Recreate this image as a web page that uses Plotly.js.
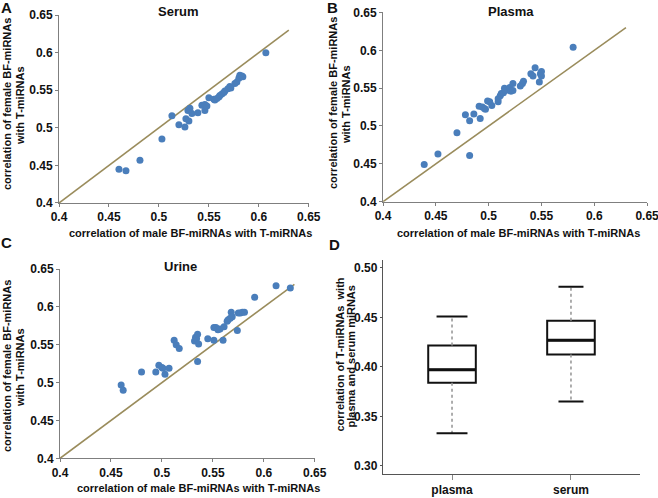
<!DOCTYPE html>
<html>
<head>
<meta charset="utf-8">
<script src="https://cdn.plot.ly/plotly-3.0.1.min.js"></script>
<style>html,body{margin:0;padding:0;background:#fff;}#chart{width:658px;height:498px;}</style>
</head>
<body>
<div id="chart"></div>
<script>
// Panel A: Serum
const serumMale   = [0.460,0.467,0.481,0.503,0.513,0.520,0.526,0.527,0.530,0.529,0.531,0.533,0.539,0.543,0.546,0.546,0.548,0.550,0.555,0.556,0.558,0.560,0.561,0.563,0.565,0.566,0.569,0.571,0.572,0.576,0.578,0.580,0.581,0.581,0.583,0.584,0.607];
const serumFemale = [0.445,0.443,0.457,0.485,0.516,0.504,0.501,0.512,0.509,0.523,0.526,0.519,0.520,0.530,0.531,0.523,0.529,0.540,0.538,0.537,0.539,0.541,0.543,0.545,0.547,0.549,0.552,0.555,0.553,0.559,0.561,0.566,0.570,0.568,0.569,0.568,0.600];
// Panel B: Plasma
const plasmaMale   = [0.439,0.452,0.470,0.478,0.482,0.482,0.486,0.492,0.491,0.494,0.496,0.497,0.499,0.501,0.503,0.509,0.509,0.511,0.512,0.514,0.515,0.516,0.520,0.521,0.523,0.523,0.530,0.532,0.533,0.540,0.542,0.544,0.548,0.549,0.550,0.550,0.580];
const plasmaFemale = [0.449,0.463,0.491,0.515,0.507,0.461,0.516,0.510,0.526,0.525,0.523,0.522,0.533,0.532,0.527,0.532,0.536,0.540,0.543,0.544,0.550,0.547,0.551,0.546,0.556,0.547,0.553,0.556,0.559,0.569,0.566,0.577,0.558,0.569,0.572,0.566,0.604];
// Panel C: Urine
const urineMale   = [0.460,0.462,0.480,0.494,0.497,0.500,0.501,0.503,0.507,0.512,0.514,0.517,0.532,0.533,0.534,0.535,0.536,0.535,0.545,0.551,0.551,0.553,0.555,0.557,0.560,0.561,0.564,0.565,0.567,0.568,0.569,0.574,0.575,0.577,0.579,0.581,0.591,0.612,0.626];
const urineFemale = [0.497,0.490,0.514,0.514,0.523,0.520,0.519,0.511,0.519,0.556,0.550,0.545,0.555,0.560,0.558,0.564,0.551,0.528,0.558,0.556,0.573,0.573,0.570,0.571,0.556,0.574,0.581,0.583,0.585,0.593,0.587,0.569,0.592,0.592,0.593,0.593,0.613,0.628,0.625];
// Identity line
const diagX = [0.4, 0.63];
const diagY = [0.4, 0.63];
// Panel D: boxplot stats
const boxCats   = ['plasma', 'serum'];
const boxLower  = [0.333, 0.365];
const boxQ1     = [0.384, 0.4125];
const boxMedian = [0.397, 0.427];
const boxQ3     = [0.4215, 0.4465];
const boxUpper  = [0.451, 0.481];
const scatterTicks = [0.4, 0.45, 0.5, 0.55, 0.6, 0.65];
const boxTicks = [0.30, 0.35, 0.40, 0.45, 0.50];

const FONT = 'Liberation Sans, Arial, sans-serif';
const dotColor = '#4a7ebb';
const lineColor = '#9a8c5c';
const axisGray = '#7f7f7f';

const boxPos = boxCats.map((c, i) => i + 1);
const boxW = 0.40, capW = [0.26, 0.21];

function scat(x, y, xa, ya) {
  return {type:'scatter', mode:'markers', x:x, y:y, xaxis:xa, yaxis:ya,
    marker:{color:dotColor, size:7}, showlegend:false, hoverinfo:'skip'};
}
function diag(xa, ya) {
  return {type:'scatter', mode:'lines', x:diagX, y:diagY, xaxis:xa, yaxis:ya,
    line:{color:lineColor, width:1.6}, showlegend:false, hoverinfo:'skip'};
}

const traces = [
  diag('x','y'), scat(serumMale, serumFemale, 'x', 'y'),
  diag('x2','y2'), scat(plasmaMale, plasmaFemale, 'x2', 'y2'),
  diag('x3','y3'), scat(urineMale, urineFemale, 'x3', 'y3'),
];

// whiskers (dashed), caps and thick medians
const wx = [], wy = [], cx = [], cy = [], mx = [], my = [];
boxPos.forEach((p, i) => {
  wx.push(p, p, null, p, p, null);
  wy.push(boxQ3[i], boxUpper[i], null, boxQ1[i], boxLower[i], null);
  cx.push(p - capW[i]/2, p + capW[i]/2, null, p - capW[i]/2, p + capW[i]/2, null);
  cy.push(boxUpper[i], boxUpper[i], null, boxLower[i], boxLower[i], null);
  mx.push(p - boxW/2, p + boxW/2, null);
  my.push(boxMedian[i], boxMedian[i], null);
});
traces.push({type:'scatter', mode:'lines', x:wx, y:wy, xaxis:'x4', yaxis:'y4',
  line:{color:'#999999', width:1.6, dash:'dot'}, showlegend:false, hoverinfo:'skip'});
traces.push({type:'scatter', mode:'lines', x:cx, y:cy, xaxis:'x4', yaxis:'y4',
  line:{color:'#111111', width:2}, showlegend:false, hoverinfo:'skip'});
traces.push({type:'box', x:boxPos, q1:boxQ1, median:boxMedian, q3:boxQ3,
  lowerfence:boxQ1, upperfence:boxQ3, width:boxW, whiskerwidth:0,
  xaxis:'x4', yaxis:'y4', line:{color:'#111111', width:2}, fillcolor:'#ffffff',
  showlegend:false, hoverinfo:'skip', boxpoints:false});
traces.push({type:'scatter', mode:'lines', x:mx, y:my, xaxis:'x4', yaxis:'y4',
  line:{color:'#111111', width:3}, showlegend:false, hoverinfo:'skip'});

function sAxis(domain, anchor) {
  return {domain:domain, anchor:anchor, range:[0.4, 0.6502], tickvals:scatterTicks,
    showgrid:false, zeroline:false, showline:true, linecolor:axisGray, linewidth:1,
    ticks:'outside', ticklen:3, tickcolor:axisGray, ticklabeloverflow:'allow',
    tickfont:{family:FONT, size:12, color:'#111', weight:'bold'}};
}

const ann = [];
function A(text, px, py, size, extra) {
  ann.push(Object.assign({text:'<b>' + text + '</b>', x:px/658, y:1 - py/498, xref:'paper', yref:'paper', showarrow:false,
    xanchor:'center', yanchor:'middle', font:{family:FONT, size:size, color:'#111'}}, extra || {}));
}
const xt = 'correlation of male BF-miRNAs with T-miRNAs';
const yt1 = 'correlation of female BF-miRNAs';
const yt2 = 'with T-miRNAs';
const rot = {textangle:-90};
A('A', 6.5, 8, 15);
A('B', 332, 8, 15);
A('C', 6.5, 242, 15);
A('D', 334, 244, 15);
A('Serum', 178.3, 11.7, 13);
A('Plasma', 511.3, 11.7, 13);
A('Urine', 180.7, 266.7, 13);
A(xt, 190.7, 232.5, 11);
A(xt, 518.3, 233, 11);
A(xt, 198.3, 487.7, 11);
A(yt1, 7, 104, 11, rot);  A(yt2, 20, 106, 11, rot);
A(yt1, 333, 103, 11, rot); A(yt2, 346, 105, 11, rot);
A(yt1, 7, 366, 11, rot);  A(yt2, 20, 368, 11, rot);
A('correlation of T-miRNAs  with', 339.5, 355, 11, rot);
A('plasma and serum miRNAs', 350.5, 357, 11, rot);

const layout = {
  width:658, height:498, autosize:false,
  margin:{l:0, r:0, t:0, b:0},
  paper_bgcolor:'#ffffff', plot_bgcolor:'rgba(0,0,0,0)',
  showlegend:false,
  xaxis: sAxis([0.0897, 0.4696], 'y'),
  yaxis: sAxis([0.5924, 0.9699], 'x'),
  xaxis2: sAxis([0.5821, 0.9837], 'y2'),
  yaxis2: sAxis([0.595, 0.9753], 'x2'),
  xaxis3: sAxis([0.0912, 0.4787], 'y3'),
  yaxis3: sAxis([0.0797, 0.4598], 'x3'),
  xaxis4: {domain:[0.5821, 0.9726], anchor:'y4', range:[0.42, 2.58],
    tickvals:boxPos, ticktext:boxCats, showgrid:false, zeroline:false,
    showline:true, linecolor:'#555', linewidth:1.2, ticks:'outside', ticklen:5, tickcolor:'#888',
    tickfont:{family:FONT, size:12, color:'#111', weight:'bold'}},
  yaxis4: {domain:[0.0488, 0.4779], anchor:'x4', range:[0.292, 0.508],
    tickvals:boxTicks, tickformat:'.2f', showgrid:false, zeroline:false,
    showline:true, linecolor:'#555', linewidth:1.2, ticks:'outside', ticklen:2, tickcolor:'#555',
    tickfont:{family:FONT, size:12, color:'#111', weight:'bold'}},
  annotations: ann
};

Plotly.newPlot('chart', traces, layout, {staticPlot:true, displayModeBar:false});
</script>
</body>
</html>
